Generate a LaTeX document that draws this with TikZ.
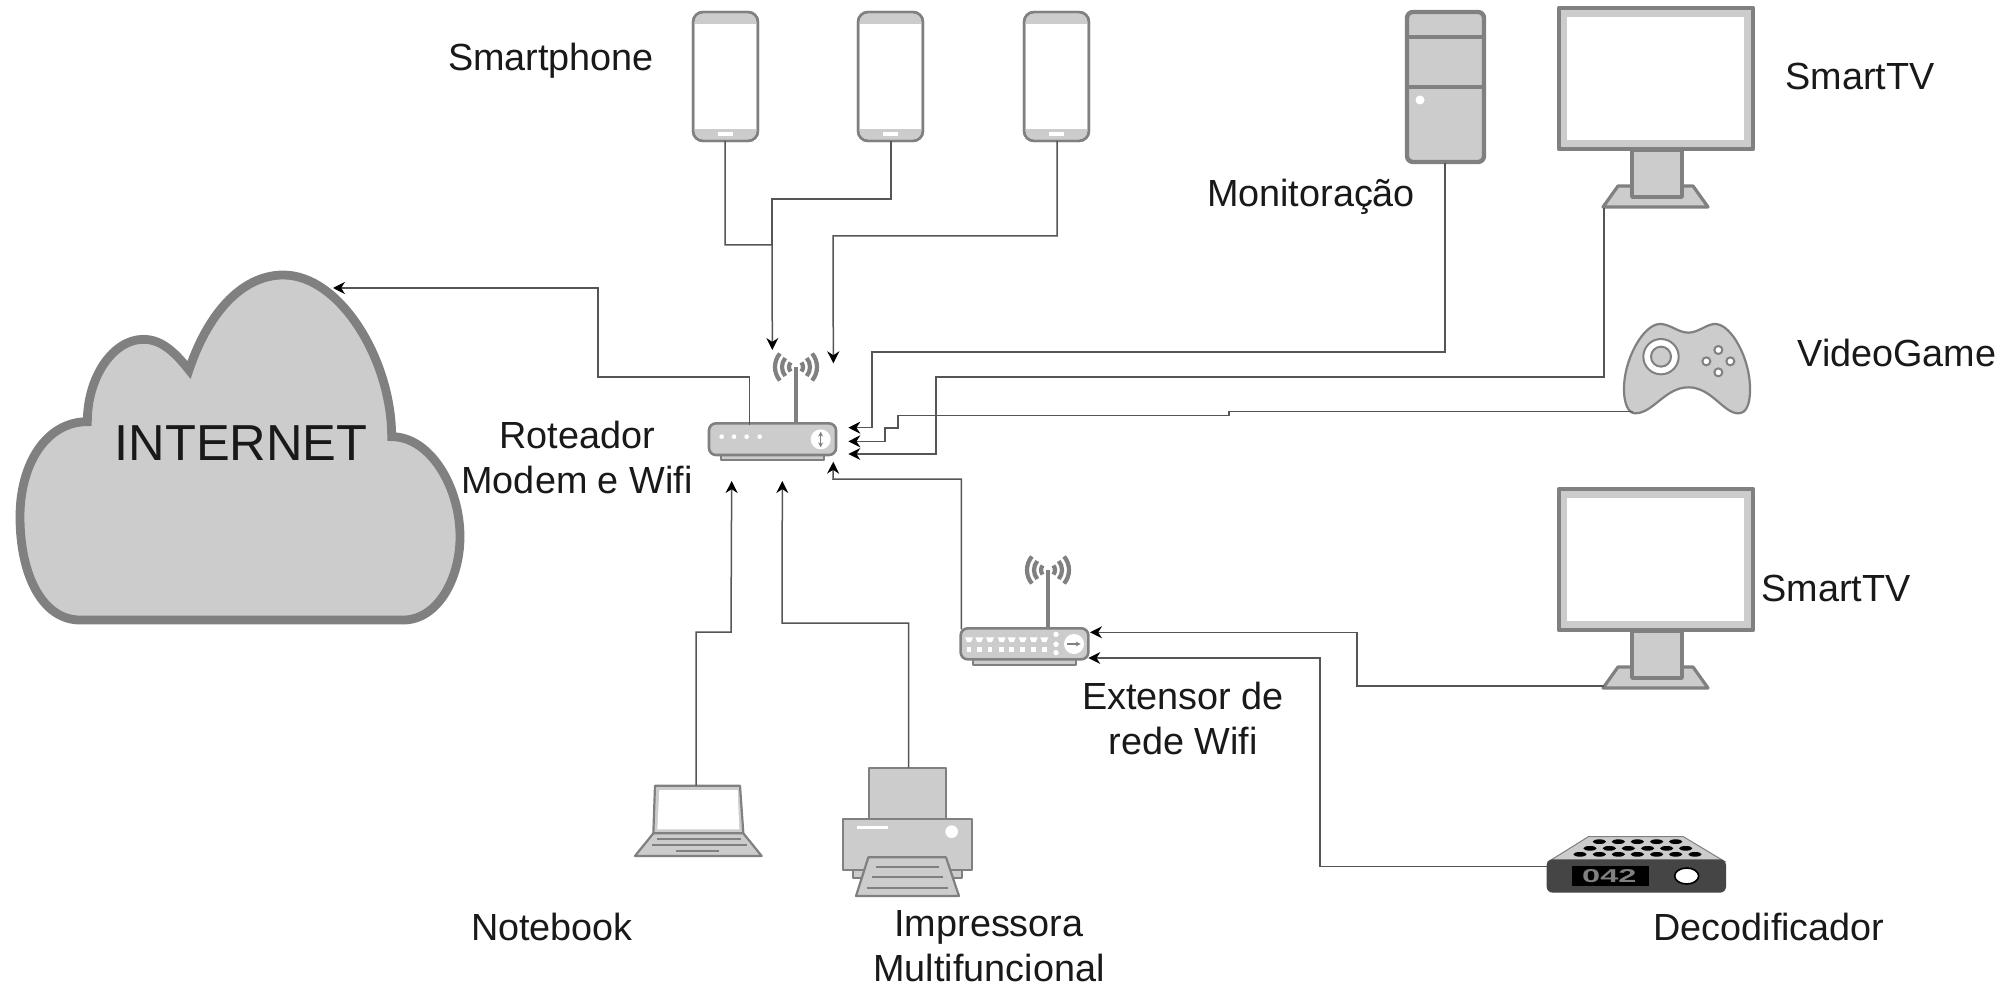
\documentclass[tikz,border=0pt]{standalone}
\usepackage{fontspec}
\usepackage{graphicx}
\setmainfont{Liberation Sans}
\usetikzlibrary{arrows.meta}
\definecolor{icongray}{HTML}{808080}
\definecolor{iconfill}{HTML}{CCCCCC}
\definecolor{wirecol}{HTML}{555555}
\tikzset{
  icon/.style={draw=icongray,fill=iconfill,line width=1.4pt,line join=round},
  zoomunit/.style={x=0.16667pt,y=-0.16667pt},
  wire/.style={draw=wirecol,line width=0.75pt},
  arrowwire/.style={wire,-{Stealth[length=6pt,width=6pt,color=black]}},
  lbl/.style={inner sep=0pt,align=center,text=black!90,font=\fontsize{18.9}{22.5}\selectfont},
  hole/.style={fill=black},
  whitepart/.style={fill=white,draw=none},
  innerline/.style={draw=icongray,line width=1.1pt},
}
\newcommand{\phoneicon}[3]{%
  \begin{scope}[shift={(#1,0)}]
    \path[icon,line width=1.2pt,rounded corners=5pt] (0,12) rectangle (65,141);
    \fill[white] (2,24) rectangle (63,129);
    \path[draw=icongray,line width=1.2pt,rounded corners=5pt] (0,12) rectangle (65,141);
    \fill[white] (25,132) rectangle (40,136);
    \coordinate (#2) at (#3,141);
  \end{scope}}
\newcommand{\waves}{%
  \foreach \r in {7,14,21}{
    \draw[icongray,line width=2.1pt] (140:\r) arc[start angle=140,end angle=220,radius=\r];
    \draw[icongray,line width=2.1pt] (40:\r) arc[start angle=40,end angle=-40,radius=\r];
  }}
\newcommand{\tvicon}[1]{%
  \begin{scope}[shift={(0,#1)}]
    \path[icon,line width=1.6pt] (1618,186) -- (1693,186) -- (1708,207) -- (1603,207) -- cycle;
    \path[icon,line width=1.8pt] (1632,150) rectangle (1682,197);
    \path[icon,line width=2.2pt] (1559,8) rectangle (1753,149);
    \fill[white] (1567,17) rectangle (1744,140);
  \end{scope}}
\begin{document}
\begin{tikzpicture}[x=0.5pt,y=-0.5pt]
\useasboundingbox[fill=white] (0,0) rectangle (2015,984);

% cloud
\begin{scope}[shift={(0,260)},zoomunit]
  \path[icon,line width=4.4pt,line join=miter]
    (240,1080) -- (1210,1080)
    .. controls (1310,1080) and (1380,960) .. (1380,830)
    .. controls (1380,680) and (1290,530) .. (1175,530)
    .. controls (1175,300) and (1020,45) .. (850,45)
    .. controls (720,45) and (620,170) .. (567,330)
    .. controls (520,270) and (480,238) .. (430,238)
    .. controls (340,238) and (262,350) .. (262,485)
    .. controls (140,485) and (60,610) .. (60,770)
    .. controls (60,950) and (130,1080) .. (240,1080) -- cycle;
\end{scope}
\node[lbl,font=\fontsize{25.3}{30}\selectfont] (internet) at (241,443) {INTERNET};
\coordinate (cloudin) at (333,288);

% phones
\phoneicon{693}{phoneA}{32}
\phoneicon{858}{phoneB}{33}
\phoneicon{1024}{phoneC}{33}

% computer
\begin{scope}
  \path[icon,line width=2.2pt,rounded corners=3pt] (1407,12) rectangle (1484,162);
  \draw[icongray,line width=2.2pt] (1407,37) -- (1484,37) (1407,87) -- (1484,87);
  \fill[white] (1420,100) circle (4.5);
  \coordinate (pcout) at (1445,163);
\end{scope}

% TVs
\tvicon{0}
\coordinate (tvAout) at (1604,208);
\tvicon{481}
\coordinate (tvBout) at (1604,686);

% game controller
\begin{scope}[shift={(1600,300)},zoomunit]
  \path[icon,line width=1.1pt]
    (72,270) .. controls (70,180) and (130,72) .. (180,72)
    .. controls (210,72) and (235,98) .. (265,98)
    .. controls (295,98) and (320,72) .. (345,72)
    .. controls (395,72) and (452,180) .. (450,270)
    .. controls (450,310) and (440,340) .. (415,340)
    .. controls (370,340) and (335,262) .. (265,262)
    .. controls (195,262) and (160,340) .. (105,340)
    .. controls (85,340) and (72,310) .. (72,270) -- cycle;
  \draw[icongray,line width=1pt,fill=white] (183,170) circle (53);
  \draw[icongray,line width=1pt,fill=iconfill] (183,170) circle (30);
  \foreach \p in {(355,150),(319,184),(391,184),(355,217)}
    \draw[icongray,line width=1pt,fill=white] \p circle (12);
  \coordinate (gameout) at (100,334);
\end{scope}

% main router
\begin{scope}[shift={(660,320)},zoomunit]
  \path[icon,line width=1.1pt] (182,405) rectangle (492,420);
  \draw[icongray,line width=2pt] (408,310) -- (408,140);
  \path[icon,line width=1.3pt,rounded corners=3.5pt] (147,310) rectangle (528,405);
  \foreach \x in {185,222,260,299} \fill[white] (\x,350) circle (7);
  \fill[white] (482,358) circle (30);
  \draw[icongray,line width=0.7pt,{Stealth[length=2.5pt,width=2.5pt]}-{Stealth[length=2.5pt,width=2.5pt]}] (482,335) -- (482,382);
  \coordinate (routerwan) at (268,315);
  \coordinate (inA) at (565,323);
  \coordinate (inB) at (565,364);
  \coordinate (inC) at (565,402);
  \coordinate (inD) at (520,425);
  \coordinate (inE) at (337,90);
  \coordinate (inF) at (520,130);
  \coordinate (inG) at (215,483);
  \coordinate (inH) at (367,483);
\end{scope}
\begin{scope}[shift={(796,367)}] \waves \end{scope}

% extender
\begin{scope}[shift={(920,530)},zoomunit]
  \path[icon,line width=1.1pt] (160,388) rectangle (468,405);
  \draw[icongray,line width=2pt] (385,295) -- (385,120);
  \path[icon,line width=1.3pt,rounded corners=3.5pt] (122,295) rectangle (505,388);
  \foreach \x in {147,178,210,245,275,308,341,373} {
    \fill[white] (\x-12,322) -- (\x+12,322) -- (\x+6,336) -- (\x-6,336) -- cycle;
    \fill[white] (\x-7,351) rectangle (\x+7,366);
  }
  \foreach \y in {313,343,368} \fill[white] (408,\y) circle (8);
  \fill[white] (462,342) circle (30);
  \draw[icongray,line width=0.7pt,-{Stealth[length=2.5pt,width=2.5pt]}] (442,342) -- (482,342);
  \coordinate (extup) at (124,298);
  \coordinate (extA) at (510,307);
  \coordinate (extB) at (505,384);
\end{scope}
\begin{scope}[shift={(1048,570)}] \waves \end{scope}

% laptop
\begin{scope}[shift={(620,760)},zoomunit]
  \path[icon,line width=1.1pt] (105,77) -- (360,77) -- (370,220) -- (100,220) -- cycle;
  \fill[white] (118,90) -- (353,90) -- (358,208) -- (112,208) -- cycle;
  \path[icon,line width=1.1pt] (100,220) -- (370,220) -- (425,288) -- (45,288) -- cycle;
  \draw[innerline] (110,238) -- (363,238) (95,256) -- (380,256) (167,272) -- (297,272);
  \coordinate (laptopout) at (228,77);
\end{scope}

% printer
\begin{scope}[shift={(620,760)},zoomunit]
  \path[icon,line width=1.1pt] (746,23) rectangle (978,178);
  \path[icon,line width=1.1pt] (700,330) rectangle (1025,353);
  \path[icon,line width=1.1pt] (670,178) rectangle (1055,330);
  \fill[white] (710,198) rectangle (805,207);
  \fill[white] (995,215) circle (19);
  \path[icon,line width=1.1pt] (745,292) -- (978,292) -- (1017,408) -- (708,408) -- cycle;
  \draw[innerline] (768,322) -- (958,322) (757,352) -- (968,352) (740,384) -- (985,384);
  \coordinate (printerout) at (866,23);
\end{scope}

% decoder
\begin{scope}[shift={(1520,800)},zoomunit]
  \path[fill=iconfill,draw=icongray,line width=0.5pt] (205,110) -- (490,110) -- (615,185) -- (85,185) -- cycle;
  \foreach \x in {238,295,352,410,467} \fill[hole] (\x,125) ellipse (20 and 7);
  \foreach \x in {210,268,325,383,440,497} \fill[hole] (\x,145) ellipse (20 and 7);
  \foreach \x in {180,238,295,352,410,467,525} \fill[hole] (\x,163) ellipse (20 and 7);
  \fill[black!73,rounded corners=3pt] (80,178) rectangle (618,278);
  \fill[black] (155,198) rectangle (388,258);
  \node[inner sep=0pt,text=icongray,font=\bfseries\fontsize{9.3}{10}\selectfont] (code) at (268,228) {\scalebox{1.75}[1]{042}};
  \draw[black,line width=0.8pt,fill=white] (500,228) ellipse (36 and 24);
  \coordinate (decout) at (80,200);
\end{scope}

% labels
\node[lbl] (lsmart) at (551,61) {Smartphone};
\node[lbl] (lmon) at (1311,197) {Monitoração};
\node[lbl] (ltvA) at (1860,76.5) {SmartTV};
\node[lbl] (lgame) at (1897,353) {VideoGame};
\node[lbl] (lrouter) at (577,457) {Roteador\\Modem e Wifi};
\node[lbl] (ltvB) at (1836,588) {SmartTV};
\node[lbl] (lext) at (1183,718) {Extensor de\\rede Wifi};
\node[lbl] (lnote) at (552,927) {Notebook};
\node[lbl] (lprint) at (989,946) {Impressora\\Multifuncional};
\node[lbl] (ldec) at (1769,927) {Decodificador};

% connectors
\draw[arrowwire] (routerwan) |- (598,377) |- (cloudin);
\draw[arrowwire] (phoneA) |- (772,245) -- (inE);
\draw[wire] (phoneB) |- (772,199) -- (772,245);
\draw[arrowwire] (phoneC) |- (833,236) -- (inF);
\draw[arrowwire] (pcout) |- (872,352) |- (inA);
\draw[arrowwire] (tvAout) |- (936,377) |- (inC);
\draw[arrowwire] (gameout) -| (1229,415.5) -- (898,415.5) -- (898,428) -- (885,428) |- (inB);
\draw[arrowwire] (extup) |- (833,479) -- (inD);
\draw[arrowwire] (tvBout) -- (1357,686) |- (extA);
\draw[arrowwire] (decout) -| (1320,700) |- (extB);
\draw[arrowwire] (laptopout) |- (731,632) -- (inG);
\draw[arrowwire] (printerout) |- (782,623) -- (inH);
\end{tikzpicture}
\end{document}
